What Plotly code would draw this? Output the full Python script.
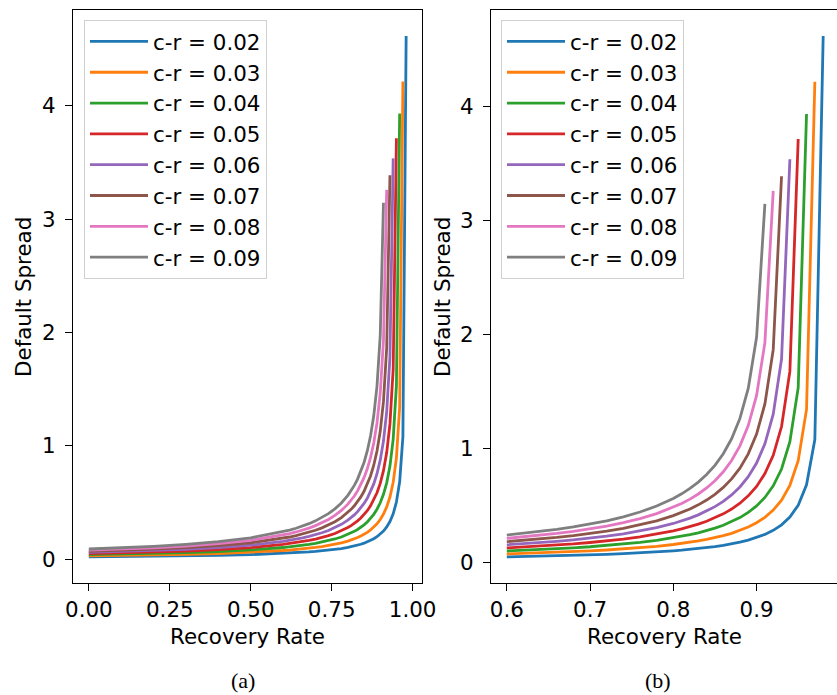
import plotly.graph_objects as go

# ---------------- data ----------------
recovery = [0.0, 0.1, 0.2, 0.3, 0.4, 0.5,
            0.60, 0.62, 0.64, 0.66, 0.68, 0.70, 0.72, 0.74, 0.76, 0.78,
            0.80, 0.81, 0.82, 0.83, 0.84, 0.85, 0.86, 0.87, 0.88, 0.89,
            0.90, 0.91, 0.92, 0.93, 0.94, 0.95, 0.96, 0.97, 0.98]

labels = ["c-r = 0.02", "c-r = 0.03", "c-r = 0.04", "c-r = 0.05",
          "c-r = 0.06", "c-r = 0.07", "c-r = 0.08", "c-r = 0.09"]

spread_002 = [0.0200, 0.0223, 0.0251, 0.0287, 0.0336, 0.0404, 0.0508, 0.0535, 0.0566, 0.0600,
              0.0639, 0.0683, 0.0734, 0.0792, 0.0861, 0.0943, 0.1043, 0.1101, 0.1166, 0.1238,
              0.1321, 0.1416, 0.1525, 0.1653, 0.1803, 0.1985, 0.2207, 0.2485, 0.2844, 0.3325,
              0.4005, 0.5043, 0.6833, 1.0790, 4.6151]
spread_003 = [0.0300, 0.0334, 0.0377, 0.0431, 0.0505, 0.0609, 0.0768, 0.0810, 0.0857, 0.0910,
              0.0969, 0.1037, 0.1116, 0.1207, 0.1314, 0.1443, 0.1599, 0.1691, 0.1794, 0.1910,
              0.2042, 0.2195, 0.2371, 0.2579, 0.2828, 0.3129, 0.3504, 0.3981, 0.4612, 0.5486,
              0.6785, 0.8944, 1.3429, 4.2147]
spread_004 = [0.0400, 0.0446, 0.0503, 0.0577, 0.0676, 0.0817, 0.1032, 0.1089, 0.1153, 0.1226,
              0.1307, 0.1401, 0.1509, 0.1635, 0.1784, 0.1963, 0.2183, 0.2312, 0.2457, 0.2623,
              0.2812, 0.3031, 0.3287, 0.3590, 0.3957, 0.4408, 0.4978, 0.5722, 0.6737, 0.8215,
              1.0601, 1.5339, 3.9319]
spread_005 = [0.0500, 0.0557, 0.0629, 0.0722, 0.0848, 0.1027, 0.1301, 0.1374, 0.1456, 0.1549,
              0.1654, 0.1775, 0.1914, 0.2078, 0.2272, 0.2507, 0.2796, 0.2967, 0.3161, 0.3382,
              0.3637, 0.3933, 0.4284, 0.4704, 0.5217, 0.5860, 0.6690, 0.7809, 0.9410, 1.1936,
              1.6767, 3.7136]
spread_006 = [0.0600, 0.0669, 0.0756, 0.0869, 0.1021, 0.1239, 0.1574, 0.1664, 0.1765, 0.1879,
              0.2009, 0.2159, 0.2332, 0.2537, 0.2780, 0.3076, 0.3443, 0.3661, 0.3910, 0.4196,
              0.4527, 0.4916, 0.5380, 0.5944, 0.6644, 0.7541, 0.8735, 1.0420, 1.3025, 1.7848,
              3.5361]
spread_007 = [0.0700, 0.0781, 0.0883, 0.1016, 0.1196, 0.1453, 0.1852, 0.1960, 0.2081, 0.2218,
              0.2374, 0.2555, 0.2765, 0.3013, 0.3310, 0.3673, 0.4127, 0.4400, 0.4712, 0.5072,
              0.5494, 0.5995, 0.6599, 0.7345, 0.8292, 0.9541, 1.1280, 1.3922, 1.8670, 3.3868]
spread_008 = [0.0800, 0.0893, 0.1011, 0.1164, 0.1372, 0.1671, 0.2136, 0.2262, 0.2404, 0.2565,
              0.2749, 0.2963, 0.3212, 0.3508, 0.3864, 0.4302, 0.4855, 0.5190, 0.5575, 0.6024,
              0.6554, 0.7191, 0.7973, 0.8958, 1.0245, 1.2016, 1.4663, 1.9290, 3.2581]
spread_009 = [0.0901, 0.1006, 0.1139, 0.1313, 0.1549, 0.1890, 0.2425, 0.2570, 0.2734, 0.2921,
              0.3135, 0.3384, 0.3676, 0.4023, 0.4445, 0.4967, 0.5632, 0.6038, 0.6510, 0.7065,
              0.7728, 0.8537, 0.9550, 1.0862, 1.2648, 1.5276, 1.9750, 3.1451]

xticks_a = [0.0, 0.25, 0.5, 0.75, 1.0]
xticklabels_a = ["0.00", "0.25", "0.50", "0.75", "1.00"]
xticks_b = [0.6, 0.7, 0.8, 0.9]
xticklabels_b = ["0.6", "0.7", "0.8", "0.9"]
yticks = [0, 1, 2, 3, 4]
yticklabels = ["0", "1", "2", "3", "4"]
zoom_start = 0.6  # panel (b) shows recovery rates from here on

# ---------------- styling ----------------
series = [spread_002, spread_003, spread_004, spread_005,
          spread_006, spread_007, spread_008, spread_009]
colors = ["#1f77b4", "#ff7f0e", "#2ca02c", "#d62728",
          "#9467bd", "#8c564b", "#e377c2", "#7f7f7f"]
FONT = "DejaVu Sans"
FS = 21.4
LW = 2.8

fig = go.Figure()
for lab, s, col in zip(labels, series, colors):
    xs = recovery[:len(s)]
    fig.add_trace(go.Scatter(x=xs, y=s, mode="lines", name=lab,
                             line=dict(color=col, width=LW),
                             xaxis="x", yaxis="y", legend="legend"))
for lab, s, col in zip(labels, series, colors):
    xs = recovery[:len(s)]
    pairs = [(x, y) for x, y in zip(xs, s) if x >= zoom_start - 1e-9]
    fig.add_trace(go.Scatter(x=[p[0] for p in pairs], y=[p[1] for p in pairs],
                             mode="lines", name=lab,
                             line=dict(color=col, width=LW),
                             xaxis="x2", yaxis="y2", legend="legend2"))

axis_common = dict(showline=True, linecolor="black", linewidth=1.3,
                   ticks="outside", ticklen=7, tickwidth=1.3, tickcolor="black",
                   showgrid=False, zeroline=False, automargin=False,
                   tickfont=dict(family=FONT, size=FS, color="black"))

H = 695.0
W = 837.0
y_dom = [1 - 583 / H, 1 - 10 / H]

legend_common = dict(xanchor="left", yanchor="top", itemwidth=58,
                     bgcolor="white", bordercolor="#d0d0d0", borderwidth=1,
                     font=dict(family=FONT, size=FS, color="black"))

fig.update_layout(
    width=837, height=695, autosize=False,
    margin=dict(l=0, r=0, t=0, b=0, pad=0, autoexpand=False),
    paper_bgcolor="white", plot_bgcolor="white",
    font=dict(family=FONT, size=FS, color="black"),
    hovermode=False,
    xaxis=dict(domain=[73 / W, 422 / W], range=[-0.049, 1.029], mirror=True,
               tickmode="array", tickvals=xticks_a, ticktext=xticklabels_a,
               anchor="y", **axis_common),
    yaxis=dict(domain=y_dom, range=[-0.2098, 4.845], mirror=True,
               tickmode="array", tickvals=yticks, ticktext=yticklabels,
               anchor="x", ticklabelstandoff=5, **axis_common),
    xaxis2=dict(domain=[491 / W, 1.0], range=[0.581, 0.9966], mirror=True,
                tickmode="array", tickvals=xticks_b, ticktext=xticklabels_b,
                anchor="y2", **axis_common),
    yaxis2=dict(domain=y_dom, range=[-0.1774, 4.8433], mirror=False,
                tickmode="array", tickvals=yticks, ticktext=yticklabels,
                anchor="x2", ticklabelstandoff=5, **axis_common),
    legend=dict(x=84 / W, y=1 - 20 / H, **legend_common),
    legend2=dict(x=501 / W, y=1 - 20 / H, **legend_common),
    showlegend=True,
)

ann = []
for xc, txt in [(247, "Recovery Rate"), (664, "Recovery Rate")]:
    ann.append(dict(x=xc / W, y=1 - 636 / H, xref="paper", yref="paper",
                    text=txt, showarrow=False, xanchor="center", yanchor="middle",
                    font=dict(family=FONT, size=FS, color="black")))
for xc in [23, 442]:
    ann.append(dict(x=xc / W, y=1 - 297 / H, xref="paper", yref="paper",
                    text="Default Spread", showarrow=False, textangle=-90,
                    xanchor="center", yanchor="middle",
                    font=dict(family=FONT, size=FS, color="black")))
for xc, txt in [(243, "(a)"), (658, "(b)")]:
    ann.append(dict(x=xc / W, y=1 - 680 / H, xref="paper", yref="paper",
                    text=txt, showarrow=False, xanchor="center", yanchor="middle",
                    font=dict(family="Liberation Serif", size=22, color="black")))
fig.update_layout(annotations=ann)

fig.write_html("out.html",
               config={"displayModeBar": False, "responsive": False},
               post_script="document.body.style.margin='0';"
                           "document.body.style.overflow='hidden';")
